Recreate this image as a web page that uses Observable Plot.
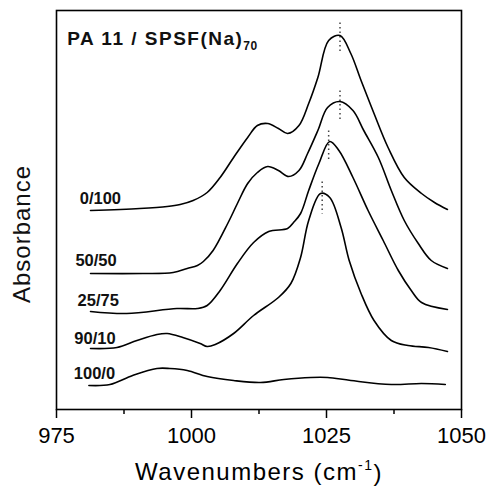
<!DOCTYPE html>
<html><head><meta charset="utf-8">
<script src="https://cdn.jsdelivr.net/npm/d3@7"></script>
<script src="https://cdn.jsdelivr.net/npm/@observablehq/plot@0.6"></script>
<style>body{margin:0;background:#fff;}</style>
</head><body><div id="chart"></div>
<script>
// Wavenumbers (cm-1) and absorbance (arbitrary, offset) for each blend
const wn_0_100 = [981.3,990.4,995.5,997.9,1000.3,1002.9,1005.3,1007.8,1010.4,1012.2,1014.1,1016.1,1017.8,1019.9,1021.7,1023.4,1025.4,1027.5,1029.5,1031.4,1033.8,1036.4,1039.4,1042.6,1045.0,1047.4];
const ab_0_100 = [1.99,2.01,2.03,2.05,2.09,2.17,2.32,2.52,2.72,2.84,2.86,2.81,2.76,2.84,3.06,3.32,3.69,3.74,3.56,3.29,2.96,2.62,2.32,2.16,2.07,2.00];

const wn_50_50 = [981.3,991.0,996.6,999.2,1001.1,1002.2,1004.0,1006.8,1008.5,1010.4,1012.2,1014.1,1016.1,1018.0,1019.9,1021.5,1023.4,1025.2,1027.5,1029.9,1031.9,1034.6,1037.0,1039.4,1042.0,1044.4,1047.4];
const ab_50_50 = [1.36,1.36,1.37,1.41,1.44,1.48,1.59,1.87,2.06,2.26,2.37,2.43,2.39,2.33,2.39,2.56,2.79,3.02,3.08,2.99,2.79,2.52,2.19,1.89,1.66,1.49,1.41];

const wn_25_75 = [981.3,988.0,997.3,1001.1,1002.9,1005.3,1008.5,1011.5,1014.3,1017.8,1018.9,1020.2,1021.7,1023.6,1025.6,1027.3,1029.9,1032.7,1035.5,1038.3,1040.7,1042.6,1047.4];
const ab_25_75 = [0.98,0.96,1.01,1.01,1.04,1.19,1.46,1.67,1.78,1.81,1.87,1.96,2.19,2.46,2.68,2.59,2.32,1.99,1.69,1.39,1.19,1.07,1.00];

const wn_90_10 = [981.3,986.2,989.9,993.6,995.5,998.4,1001.6,1002.9,1004.4,1007.8,1011.5,1016.1,1018.4,1020.2,1021.7,1023.9,1025.6,1027.7,1029.2,1031.4,1033.8,1037.0,1040.1,1043.9,1047.4];
const ab_90_10 = [0.61,0.62,0.69,0.75,0.76,0.72,0.66,0.63,0.65,0.76,0.94,1.12,1.26,1.52,1.89,2.16,2.12,1.82,1.49,1.16,0.89,0.69,0.64,0.62,0.58];

const wn_100_0 = [981.0,984.9,989.1,993.6,996.0,999.2,1002.9,1007.8,1012.8,1017.1,1022.1,1025.2,1029.5,1037.0,1042.6,1047.0];
const ab_100_0 = [0.24,0.25,0.34,0.41,0.41,0.39,0.33,0.29,0.27,0.30,0.32,0.32,0.29,0.25,0.26,0.25];

const seriesNames = ["0/100","50/50","25/75","90/10","100/0"];
const labelX = [979.3,978.5,978.9,978.3,978.2];
const labelY = [2.11,1.49,1.09,0.71,0.36];

// dotted peak markers
const peakX  = [1027.5,1027.5,1025.4,1024.2];
const peakY1 = [3.87,3.19,2.79,2.28];
const peakY2 = [3.56,2.89,2.49,1.96];

const titleText = ["PA 11 / SPSF(Na)70"];
const titleX = [977.0];
const titleY = [3.71];

const xTicks = [975,1000,1025,1050];
const xMinorTicks = [987.5,1012.5,1037.5];
const xLabel = "Wavenumbers (cm-1)";
const yLabel = ["Absorbance"];

const wnList = [wn_0_100, wn_50_50, wn_25_75, wn_90_10, wn_100_0];
const abList = [ab_0_100, ab_50_50, ab_25_75, ab_90_10, ab_100_0];
const rows = [];
seriesNames.forEach((s, i) => wnList[i].forEach((w, j) => rows.push({series: s, wn: w, ab: abList[i][j]})));
const labelRows = seriesNames.map((s, i) => ({s, x: labelX[i], y: labelY[i]}));
const peakRows = peakX.map((x, i) => ({x, y1: peakY1[i], y2: peakY2[i]}));
const titleRows = titleText.map((t, i) => ({t, x: titleX[i], y: titleY[i]}));

const font = "'Liberation Sans', Arial, Helvetica, sans-serif";
const chart = Plot.plot({
  width: 489, height: 490,
  marginLeft: 56, marginRight: 28, marginTop: 10, marginBottom: 81,
  style: {fontFamily: font, color: "#000", background: "#fff"},
  x: {domain: [975, 1050]},
  y: {domain: [0, 3.99], axis: null},
  marks: [
    Plot.frame({stroke: "#000", strokeWidth: 1.6}),
    Plot.axisX({ticks: xTicks, tickFormat: "d", tickSize: 9, tickPadding: 9, strokeWidth: 1.5, fontSize: 22,
      label: xLabel, labelAnchor: "center", labelArrow: "none", labelOffset: 70}),
    Plot.axisX({ticks: xMinorTicks, tickSize: 5, strokeWidth: 1.5, fill: "none", label: null}),
    Plot.text(yLabel, {frameAnchor: "left", textAnchor: "middle", rotate: -90, dx: -34, dy: 24, fontSize: 24, fill: "#111"}),
    Plot.link(peakRows, {x1: "x", x2: "x", y1: "y1", y2: "y2", stroke: "#444", strokeWidth: 1.5, strokeDasharray: "1.5,3"}),
    Plot.line(rows, {x: "wn", y: "ab", z: "series", stroke: "#000", strokeWidth: 1.6, curve: "catmull-rom"}),
    Plot.text(labelRows, {x: "x", y: "y", text: "s", textAnchor: "start", fontWeight: "bold", fontSize: 16.5, fill: "#111"}),
    Plot.text(titleRows, {x: "x", y: "y", text: "t", textAnchor: "start", fontWeight: "bold", fontSize: 19, fill: "#111"})
  ]
});
document.getElementById("chart").append(chart);

// typographic sub/superscripts and letter spacing
d3.select(chart).selectAll("text").each(function() {
  const t = this.textContent;
  const sel = d3.select(this);
  if (t === "PA 11 / SPSF(Na)70") {
    sel.text(null).attr("letter-spacing", 1.5);
    sel.append("tspan").text("PA 11 / SPSF(Na)");
    sel.append("tspan").attr("font-size", 12).attr("dy", "0.45em").attr("letter-spacing", 0.5).text("70");
  } else if (t === xLabel) {
    sel.text(null).attr("font-size", 24).attr("letter-spacing", 1.5);
    sel.append("tspan").text("Wavenumbers (cm");
    sel.append("tspan").attr("font-size", 14).attr("dy", "-0.7em").text("-1");
    sel.append("tspan").attr("dy", "0.45em").text(")");
  } else if (t === "Absorbance") {
    sel.attr("letter-spacing", 1);
  }
});
</script>
</body></html>
